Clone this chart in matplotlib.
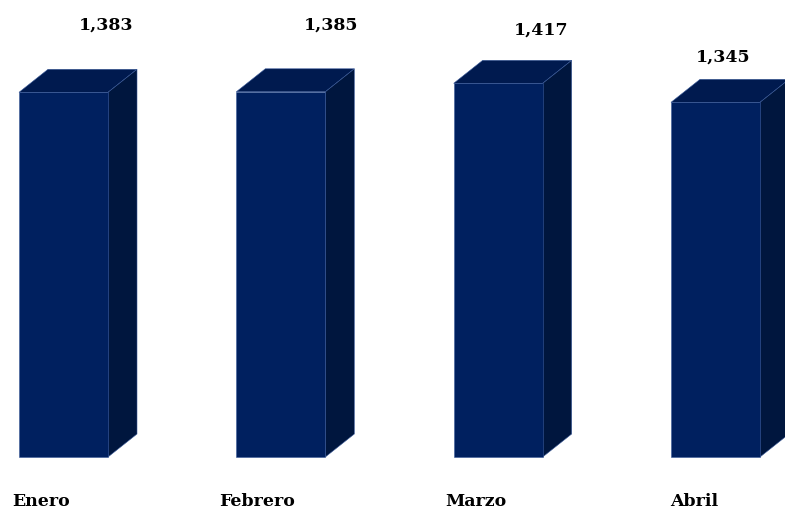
import matplotlib
matplotlib.use("Agg")
import matplotlib.pyplot as plt
from matplotlib.patches import Polygon

categories = ["Enero", "Febrero", "Marzo", "Abril"]
values = [1383, 1385, 1417, 1345]
value_labels = ["1,383", "1,385", "1,417", "1,345"]

# layout (pixel-based)
W, H = 785, 512
PX_PER_CAT = 217.33
PX_PER_VAL = 0.2637
BASE_PY = 457
FIRST_CENTER_PX = 63.5
BAR_W = 89 / PX_PER_CAT
DX = 29 / PX_PER_CAT
DY = 23 / PX_PER_VAL

# label placement offsets (pixels)
val_lbl_dx = [43, 50, 43, 8]
val_lbl_py = [25, 25, 30, 57]
cat_lbl_px = [12, 219, 445, 670]
cat_lbl_py = 502

FRONT = "#00205f"
TOP = "#001a4f"
SIDE = "#00163e"
EDGE = "#3a5a9a"

fig = plt.figure(figsize=(W / 100, H / 100), dpi=100)
ax = fig.add_axes([0, 0, 1, 1])
x0 = -FIRST_CENTER_PX / PX_PER_CAT
ax.set_xlim(x0, x0 + W / PX_PER_CAT)
ax.set_ylim((BASE_PY - H) / PX_PER_VAL, BASE_PY / PX_PER_VAL)
ax.axis("off")

def px2x(px):
    return x0 + px / PX_PER_CAT

def py2y(py):
    return (BASE_PY - py) / PX_PER_VAL

xs = list(range(len(values)))
ax.bar(xs, values, width=BAR_W, color=FRONT, edgecolor=EDGE, linewidth=0.4, zorder=3)
for i, v in zip(xs, values):
    l = i - BAR_W / 2
    r = i + BAR_W / 2
    top = [(l, v), (r, v), (r + DX, v + DY), (l + DX, v + DY)]
    side = [(r, 0), (r + DX, DY), (r + DX, v + DY), (r, v)]
    ax.add_patch(Polygon(top, closed=True, facecolor=TOP, edgecolor=EDGE, linewidth=0.4, zorder=2))
    ax.add_patch(Polygon(side, closed=True, facecolor=SIDE, edgecolor=EDGE, linewidth=0.4, zorder=2))

font = dict(family="DejaVu Serif", fontweight="bold", fontsize=12.5, color="black")
for i, lbl in enumerate(value_labels):
    ax.text(i + val_lbl_dx[i] / PX_PER_CAT, py2y(val_lbl_py[i]), lbl,
            ha="center", va="center", **font)
for i, c in enumerate(categories):
    ax.text(px2x(cat_lbl_px[i]), py2y(cat_lbl_py), c, ha="left", va="center", **font)

fig.savefig("out.png", dpi=100)
